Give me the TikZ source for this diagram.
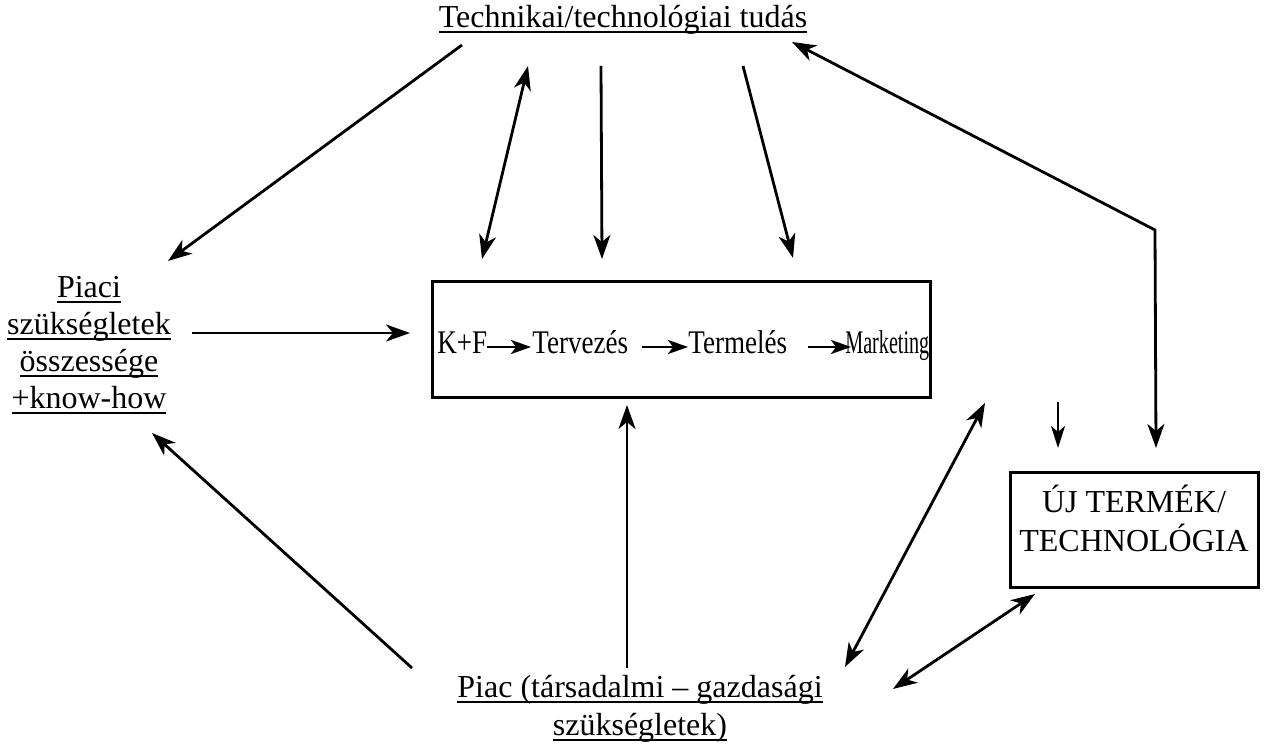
\documentclass[tikz,border=0pt]{standalone}
\usepackage{fontspec}
\setmainfont{Liberation Serif}
\usetikzlibrary{arrows.meta}
% underline at a fixed depth, crossing descenders like a typewriter rule
\newcommand\ulword[1]{\setbox0=\hbox{#1}\rlap{\rule[-2.4pt]{\wd0}{0.9pt}}\box0}
\begin{document}
\begin{tikzpicture}[x=0.5pt,y=-0.5pt,
  txt/.style={font=\fontsize{16}{18.5}\selectfont, inner sep=0pt, align=center},
  boxword/.style={font=\fontsize{16.5}{18}\selectfont, inner sep=0pt, anchor=base west},
  frame/.style={draw, line width=1.5pt, inner sep=0pt},
  tip/.tip={Stealth[length=12pt,width=8.5pt,inset=3.5pt]},
  link/.style={line width=1.4pt, -tip},
  twoway/.style={line width=1.4pt, tip-tip},
  chain/.style={line width=1.3pt, -{Stealth[length=10pt,width=7pt,inset=2.5pt]}},
  drop/.style={line width=1.1pt, -{Stealth[length=11pt,width=7pt,inset=3pt]}}]
\useasboundingbox (0,0) rectangle (1264,747);

% ---- text nodes (base anchor = baseline of the last line) ----
\node[txt, anchor=base] (tech) at (623,28) {\ulword{Technikai/technológiai tudás}};
\node[txt, anchor=base] (needs) at (89,409)
  {\ulword{Piaci}\\\ulword{szükségletek}\\\ulword{összessége}\\\ulword{+know-how}};
\node[txt, anchor=base, font=\fontsize{16}{19}\selectfont] (market) at (640,736)
  {\ulword{Piac (társadalmi -- gazdasági}\\\ulword{szükségletek)}};

% ---- process box ----
\node[frame, minimum width=249pt, minimum height=58pt] (process) at (681,340) {};
\node[boxword] (kf) at (437,354) {\scalebox{0.82}[1]{K+F}};
\node[boxword] (design) at (532,354) {\scalebox{0.82}[1]{Tervezés}};
\node[boxword] (prod) at (688,354) {\scalebox{0.82}[1]{Termelés}};
\node[boxword] (mkt) at (845,354) {\scalebox{0.61}[1]{Marketing}};
\coordinate (c1s) at (487,347); \coordinate (c1e) at (531,347);
\coordinate (c2s) at (642,347); \coordinate (c2e) at (688,347);
\coordinate (c3s) at (808,347); \coordinate (c3e) at (851,347);
\draw[chain] (c1s) -- (c1e);
\draw[chain] (c2s) -- (c2e);
\draw[chain] (c3s) -- (c3e);

% ---- new product box ----
\node[frame, minimum width=124pt, minimum height=57.5pt] (newbox) at (1134,530.5) {};
\node[txt, anchor=base, font=\fontsize{16}{19.5}\selectfont] (newtext) at (1134,552)
  {ÚJ TERMÉK/\\TECHNOLÓGIA};

% ---- connector end points ----
\coordinate (a1s) at (462,45);   \coordinate (a1e) at (168,261);
\coordinate (a2s) at (528,66);   \coordinate (a2e) at (482,259);
\coordinate (a3s) at (601,66);   \coordinate (a3e) at (602,259);
\coordinate (a4s) at (743,66);   \coordinate (a4e) at (793,258);
\coordinate (a5s) at (792,42);   \coordinate (a5m) at (1155,230); \coordinate (a5e) at (1156,448);
\coordinate (a6s) at (1058,402); \coordinate (a6e) at (1058,448);
\coordinate (a7s) at (192,333);  \coordinate (a7e) at (410,333);
\coordinate (a8s) at (627,668);  \coordinate (a8e) at (627,405);
\coordinate (a9s) at (412,668);  \coordinate (a9e) at (152,433);
\coordinate (a10s) at (985,403); \coordinate (a10e) at (845,667);
\coordinate (a11s) at (1035,594);\coordinate (a11e) at (893,689);

% ---- connectors ----
\draw[link] (a1s) -- (a1e);
\draw[twoway] (a2s) -- (a2e);
\draw[link] (a3s) -- (a3e);
\draw[link] (a4s) -- (a4e);
\draw[twoway] (a5s) -- (a5m) -- (a5e);
\draw[drop] (a6s) -- (a6e);
\draw[link] (a7s) -- (a7e);
\draw[link] (a8s) -- (a8e);
\draw[link] (a9s) -- (a9e);
\draw[twoway] (a10s) -- (a10e);
\draw[twoway] (a11s) -- (a11e);
\end{tikzpicture}
\end{document}
